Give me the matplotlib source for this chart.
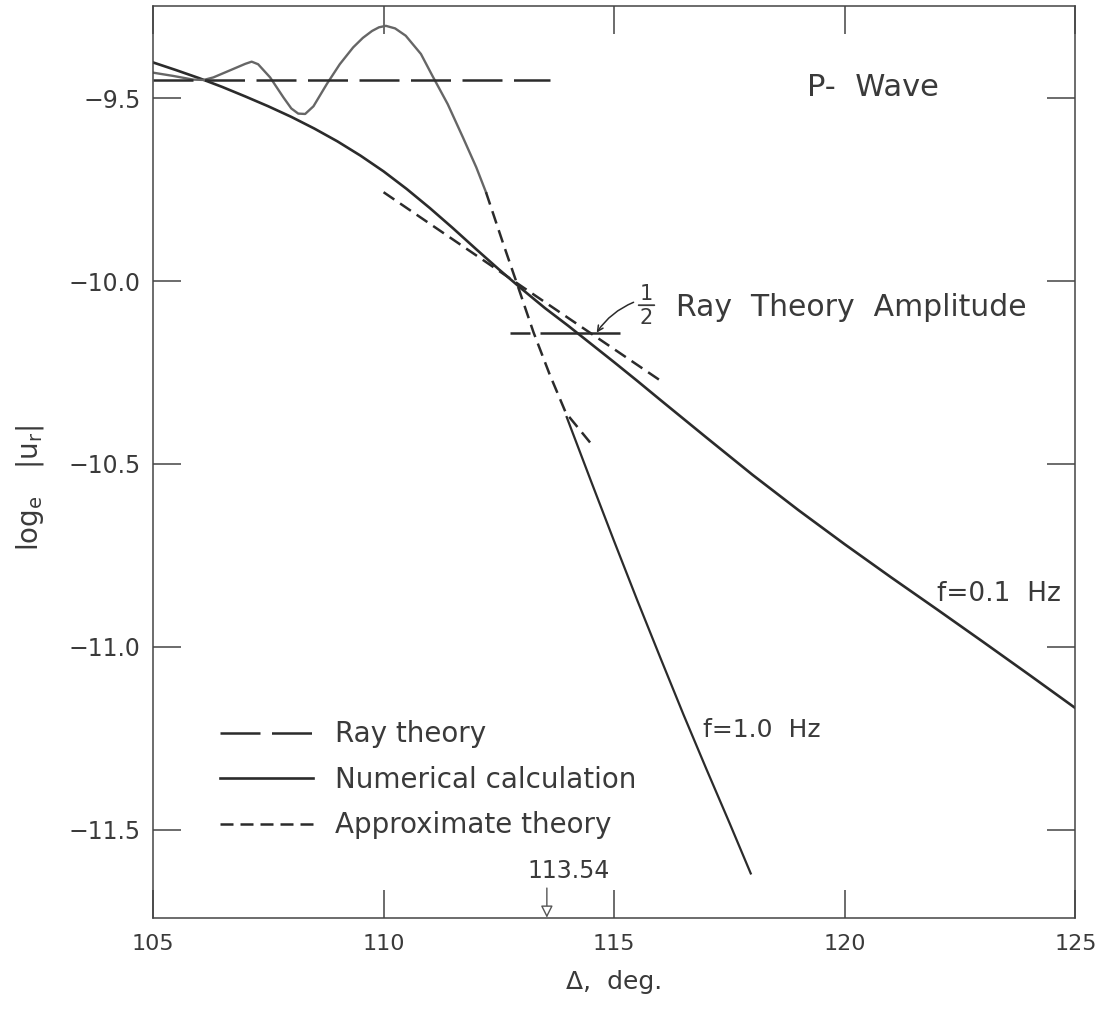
import matplotlib.pyplot as plt

plt.rcParams["font.family"] = ["DejaVu Sans"]

# Numerical calculation, f = 0.1 Hz
num_01_x = [105, 105.5, 106, 106.5, 107, 107.5, 108, 108.5, 109, 109.5, 110,
            110.5, 111, 111.5, 112, 112.5, 113, 113.5, 114, 114.5, 115, 115.5,
            116, 117, 118, 119, 120, 121, 122, 123, 124, 125]
num_01_y = [-9.402, -9.423, -9.445, -9.469, -9.495, -9.522, -9.551, -9.583,
            -9.618, -9.657, -9.700, -9.748, -9.800, -9.855, -9.912, -9.968,
            -10.022, -10.074, -10.122, -10.172, -10.222, -10.273, -10.325,
            -10.428, -10.53, -10.627, -10.72, -10.81, -10.898, -10.987,
            -11.077, -11.168]

# Numerical calculation, f = 1.0 Hz (upper part, before the gap)
num_10a_x = [105.0, 105.44, 105.87, 106.1, 106.31, 106.74, 107.0, 107.14,
             107.28, 107.54, 107.83, 108.0, 108.15, 108.3, 108.48, 108.77,
             109.05, 109.34, 109.55, 109.75, 109.9, 110.05, 110.25, 110.48,
             110.81, 111.06, 111.39, 111.72, 112.01, 112.22]
num_10a_y = [-9.430, -9.439, -9.449, -9.450, -9.443, -9.420, -9.406, -9.400,
             -9.407, -9.443, -9.498, -9.528, -9.542, -9.543, -9.522, -9.461,
             -9.407, -9.361, -9.335, -9.316, -9.306, -9.302, -9.309, -9.329,
             -9.379, -9.439, -9.516, -9.607, -9.689, -9.757]

# Numerical calculation, f = 1.0 Hz (lower part)
num_10b_x = [113.97, 114.5, 115.0, 115.5, 116.0, 116.5, 117.0, 117.5, 117.96]
num_10b_y = [-10.372, -10.548, -10.712, -10.873, -11.03, -11.185, -11.335,
             -11.482, -11.62]

# Approximate theory
appr_01_x = [110.0, 113.0, 116.0]
appr_01_y = [-9.757, -10.015, -10.272]
appr_10_x = [112.22, 112.6, 112.9, 113.25, 113.6, 113.95, 114.5]
appr_10_y = [-9.757, -9.9, -10.01, -10.14, -10.255, -10.36, -10.445]

# Ray theory and half of it
ray_x = [105.0, 113.6]
ray_y = [-9.451, -9.451]
half_ray_x = [112.75, 115.12]
half_ray_y = [-10.141, -10.141]

x_ticks = [105, 110, 115, 120, 125]
y_ticks = [-9.5, -10.0, -10.5, -11.0, -11.5]
y_tick_labels = ["\u22129.5", "\u221210.0", "\u221210.5", "\u221211.0", "\u221211.5"]

ink = "#2b2b2b"
text_c = "#3a3a3a"

fig = plt.figure(figsize=(11.14, 10.09), dpi=100)
ax = fig.add_axes([0.1373, 0.0905, 0.8281, 0.9031])

num_line, = ax.plot(num_01_x, num_01_y, color=ink, lw=1.9, label="Numerical calculation")
ax.plot(num_10a_x, num_10a_y, color="#666666", lw=1.7)
ax.plot(num_10b_x, num_10b_y, color=ink, lw=1.6)

ray_line, = ax.plot(ray_x, ray_y, color=ink, lw=1.8, dashes=(16, 4.6), label="Ray theory")
ax.plot(half_ray_x, half_ray_y, color=ink, lw=1.8, dashes=(8, 4, 40, 10))

appr_line, = ax.plot(appr_01_x, appr_01_y, color=ink, lw=1.8, dashes=(5.2, 2.8),
                     label="Approximate theory")
ax.plot(appr_10_x, appr_10_y, color=ink, lw=1.8, dashes=(5.2, 2.8))

ax.set_xlim(105, 125)
ax.set_ylim(-11.741, -9.249)
ax.set_xticks(x_ticks)
ax.set_yticks(y_ticks)
ax.set_yticklabels(y_tick_labels)

ax.tick_params(axis="both", direction="in", length=20, width=1.1, color="#444444",
               labelcolor=text_c, top=True, right=True)
ax.tick_params(axis="y", labelsize=17, pad=9)
ax.tick_params(axis="x", labelsize=16, pad=12)
for sp in ax.spines.values():
    sp.set_linewidth(1.1)
    sp.set_color("#444444")

# axis titles
ax.text(0.5, -0.0706, "\u0394,  deg.", transform=ax.transAxes, ha="center", va="center",
        fontsize=18, color=text_c)
ax.text(-0.133, 0.4716, r"$\mathregular{log_e\ \ \ |u_r|}$", transform=ax.transAxes,
        rotation=90, ha="center", va="center", fontsize=20, color=text_c)

# annotations
ax.text(119.18, -9.471, "P-  Wave", fontsize=22, ha="left", va="center", color=text_c)
ax.text(121.99, -10.855, "f=0.1  Hz", fontsize=19, ha="left", va="center", color=text_c)
ax.text(116.92, -11.228, "f=1.0  Hz", fontsize=18, ha="left", va="center", color=text_c)

# hand-set fraction 1/2 in front of the label
ax.text(115.70, -10.034, "1", fontsize=15, ha="center", va="center", color=text_c)
ax.text(115.70, -10.102, "2", fontsize=15, ha="center", va="center", color=text_c)
ax.annotate("", xy=(115.87, -10.066), xytext=(115.53, -10.066),
            arrowprops=dict(arrowstyle="-", color=text_c, lw=1.3, shrinkA=0, shrinkB=0))
ax.text(116.34, -10.072, "Ray  Theory  Amplitude", fontsize=21.5, ha="left", va="center",
        color=text_c)
ax.annotate("", xy=(114.62, -10.141), xytext=(115.42, -10.058),
            arrowprops=dict(arrowstyle="->", color=ink, lw=1.1,
                            connectionstyle="arc3,rad=0.15", shrinkA=0, shrinkB=0))

ax.text(114.02, -11.613, "113.54", fontsize=17, ha="center", va="center", color=text_c)
ax.annotate("", xy=(113.54, -11.741), xytext=(113.54, -11.66),
            arrowprops=dict(arrowstyle="-|>", color="#555555", lw=1.0,
                            mutation_scale=18, shrinkA=0, shrinkB=0, fc="white"))

leg = ax.legend(handles=[ray_line, num_line, appr_line], loc="center left",
                bbox_to_anchor=(0.0726, 0.1511), frameon=False, fontsize=20,
                handlelength=3.35, handletextpad=0.79, labelspacing=0.63,
                borderpad=0, borderaxespad=0)
for t in leg.get_texts():
    t.set_color(text_c)

plt.savefig("out.png", dpi=100)
plt.close()
